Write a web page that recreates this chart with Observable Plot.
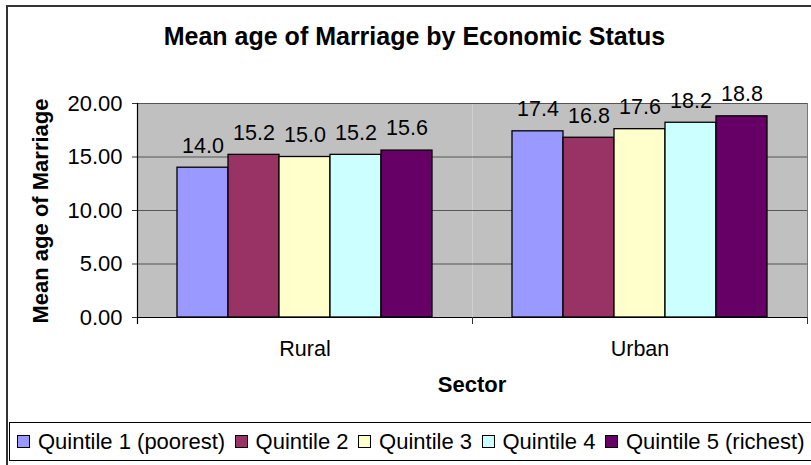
<!DOCTYPE html>
<html>
<head>
<meta charset="utf-8">
<script src="https://cdn.jsdelivr.net/npm/d3@7"></script>
<script src="https://cdn.jsdelivr.net/npm/@observablehq/plot@0.6"></script>
<style>
  html, body { margin: 0; padding: 0; background: #fff; }
  #chart { position: relative; width: 811px; height: 465px; overflow: hidden; font-family: "Liberation Sans", Arial, sans-serif; color: #000; }
  #outer { position: absolute; left: 6px; top: 5px; width: 900px; height: 600px; border: 2px solid #333; box-sizing: border-box; }
  #title { position: absolute; left: 14.5px; width: 800px; top: 24px; text-align: center; font-weight: bold; font-size: 25px; line-height: 25px; white-space: nowrap; }
  #ylab { position: absolute; left: 41px; top: 211px; transform: translate(-50%, -50%) rotate(-90deg); font-weight: bold; font-size: 22px; line-height: 22px; white-space: nowrap; }
  #xlab { position: absolute; left: 472px; top: 374px; transform: translateX(-50%); font-weight: bold; font-size: 22px; line-height: 22px; white-space: nowrap; }
  #plot { position: absolute; left: 0; top: 0; }
  #legend { position: absolute; left: 9px; top: 422px; width: 900px; height: 39px; border: 1px solid #000; box-sizing: border-box; display: flex; align-items: center; padding-left: 7px; font-size: 22px; white-space: nowrap; }
  .item { display: flex; align-items: center; margin-right: 9.5px; }
  .sw { width: 11px; height: 11px; border: 1px solid #000; margin-right: 8px; }
</style>
</head>
<body>
<div id="chart">
  <div id="outer"></div>
  <div id="plot"></div>
  <div id="title">Mean age of Marriage by Economic Status</div>
  <div id="ylab">Mean age of Marriage</div>
  <div id="xlab">Sector</div>
  <div id="legend"></div>
</div>
<script>
const sectors = ["Rural", "Urban"];
const quintiles = ["Quintile 1 (poorest)", "Quintile 2", "Quintile 3", "Quintile 4", "Quintile 5 (richest)"];
const ruralValues = [14.0, 15.2, 15.0, 15.2, 15.6];
const urbanValues = [17.4, 16.8, 17.6, 18.2, 18.8];
const quintileColors = ["#9999FF", "#993366", "#FFFFCC", "#CCFFFF", "#660066"];
const yTicks = [0, 5, 10, 15, 20];
const xTitle = "Sector";
const yTitle = "Mean age of Marriage";

const seriesBySector = {Rural: ruralValues, Urban: urbanValues};
const data = [];
for (const s of sectors) {
  seriesBySector[s].forEach((v, i) => data.push({sector: s, quintile: quintiles[i], value: v}));
}

const W = 811, H = 420, mTop = 103, mBottom = 103, mLeft = 137, mRight = 4;
const plotH = H - mTop - mBottom;

const chart = Plot.plot({
  width: W,
  height: H,
  marginTop: mTop,
  marginBottom: mBottom,
  marginLeft: mLeft,
  marginRight: mRight,
  style: {fontFamily: '"Liberation Sans", Arial, sans-serif', fontSize: "21.5px", background: "transparent", color: "#000", overflow: "visible"},
  fx: {domain: sectors, padding: 0, label: null},
  x: {domain: quintiles, paddingInner: 0, paddingOuter: 0.75, axis: null},
  y: {domain: [0, 20], axis: null},
  color: {domain: quintiles, range: quintileColors},
  marks: [
    Plot.frame({fill: "#C0C0C0", stroke: null}),
    Plot.ruleY(yTicks.filter(d => d > 0), {stroke: "#555", strokeWidth: 1}),
    Plot.frame({anchor: "right", stroke: "#777", facetAnchor: "right"}),
    Plot.barY(data, {fx: "sector", x: "quintile", y: "value", fill: "quintile", stroke: "#000", strokeWidth: 1.3}),
    Plot.text(data, {fx: "sector", x: "quintile", y: "value", text: d => d.value.toFixed(1), dy: -22, fontSize: 21.5, fill: "#000"}),
    Plot.ruleY([0], {stroke: "#000", strokeWidth: 1.2}),
    Plot.frame({anchor: "right", stroke: "#333", insetTop: plotH, insetBottom: -6}),
    Plot.frame({anchor: "left", stroke: "#000", strokeWidth: 1.2, insetBottom: -6, facetAnchor: "left"}),
    Plot.axisY({ticks: yTicks, tickFormat: d3.format(".2f"), tickSize: 5, tickPadding: 10, fontSize: 22, label: null, stroke: "#333"}),
    Plot.axisFx({anchor: "bottom", tickSize: 0, tickPadding: 23, fontSize: 21.5, label: null})
  ]
});
document.getElementById("plot").appendChild(chart);

const legend = document.getElementById("legend");
quintiles.forEach((q, i) => {
  const it = document.createElement("div");
  it.className = "item";
  const sw = document.createElement("div");
  sw.className = "sw";
  sw.style.background = quintileColors[i];
  const t = document.createElement("span");
  t.textContent = q;
  it.appendChild(sw);
  it.appendChild(t);
  legend.appendChild(it);
});
</script>
</body>
</html>
